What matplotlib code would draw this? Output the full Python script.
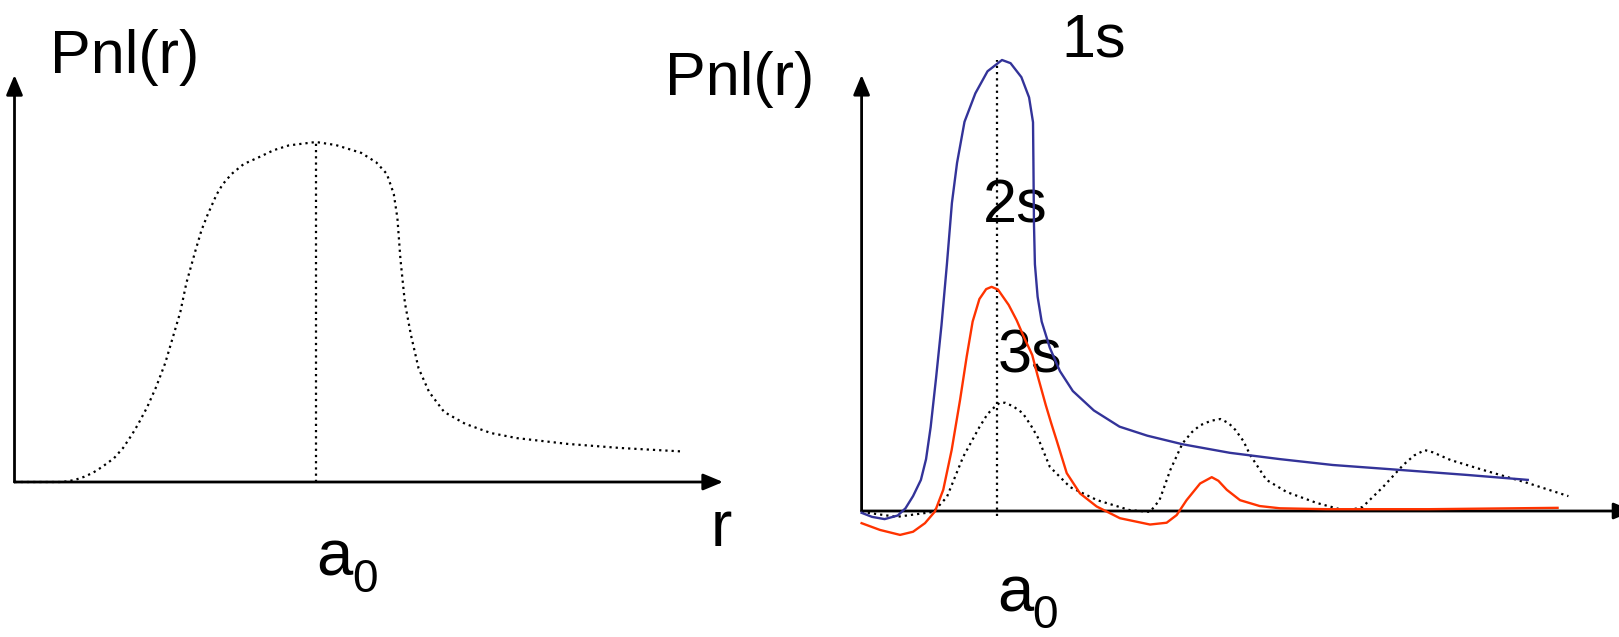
import numpy as np
import matplotlib
matplotlib.use('Agg')
import matplotlib.pyplot as plt

plt.rcParams['font.family'] = ['Liberation Sans', 'DejaVu Sans']

# left panel: single hump, r in units of a0, P normalised to the peak
r_left = [0.0, 0.16, 0.20, 0.23, 0.26, 0.29, 0.33, 0.36, 0.39, 0.41, 0.44, 0.47, 0.50, 0.52, 0.55,
          0.57, 0.60, 0.62, 0.64, 0.67, 0.69, 0.72, 0.76, 0.81, 0.86, 0.91, 1.0, 1.066, 1.15, 1.20,
          1.235, 1.258, 1.27, 1.28, 1.295, 1.315, 1.34, 1.375, 1.425, 1.495, 1.58, 1.667, 1.835,
          2.01, 2.21]
p_left = [0.0, 0.0, 0.006, 0.015, 0.027, 0.044, 0.07, 0.10, 0.14, 0.17, 0.22, 0.28, 0.35, 0.41, 0.50,
          0.585, 0.68, 0.74, 0.785, 0.845, 0.875, 0.906, 0.935, 0.955, 0.976, 0.99, 1.0, 0.991, 0.968,
          0.94, 0.906, 0.847, 0.776, 0.656, 0.526, 0.432, 0.335, 0.265, 0.206, 0.171, 0.144, 0.129,
          0.112, 0.10, 0.09]

# right panel: 1s, 2s, 3s
r_1s = [0.0, 0.077, 0.17, 0.267, 0.324, 0.38, 0.438, 0.476, 0.51, 0.55, 0.59, 0.63, 0.667, 0.705,
        0.76, 0.84, 0.93, 1.037, 1.10, 1.18, 1.237, 1.266, 1.269, 1.273, 1.28, 1.30, 1.33, 1.39,
        1.465, 1.56, 1.715, 1.905, 2.11, 2.37, 2.72, 3.09, 3.48, 3.98, 4.47, 4.92]
p_1s = [-0.004, -0.013, -0.018, -0.01, 0.006, 0.033, 0.069, 0.115, 0.186, 0.295, 0.412, 0.547, 0.683,
        0.772, 0.863, 0.926, 0.975, 1.0, 0.993, 0.962, 0.917, 0.862, 0.772, 0.637, 0.547, 0.475,
        0.42, 0.362, 0.31, 0.266, 0.223, 0.187, 0.167, 0.148, 0.129, 0.115, 0.102, 0.091, 0.08, 0.069]

r_2s = [0.0, 0.136, 0.284, 0.38, 0.468, 0.542, 0.603, 0.665, 0.727, 0.776, 0.82, 0.87, 0.92, 0.96,
        1.007, 1.086, 1.145, 1.20, 1.26, 1.30, 1.36, 1.40, 1.44, 1.515, 1.613, 1.736, 1.908, 2.13,
        2.253, 2.327, 2.40, 2.50, 2.586, 2.635, 2.697, 2.795, 2.94, 3.09, 3.43, 4.19, 5.14]
p_2s = [-0.027, -0.042, -0.053, -0.046, -0.027, -0.001, 0.047, 0.135, 0.246, 0.342, 0.42, 0.47, 0.492,
        0.497, 0.491, 0.457, 0.423, 0.385, 0.346, 0.30, 0.235, 0.195, 0.157, 0.084, 0.039, 0.01,
        -0.016, -0.03, -0.026, -0.009, 0.024, 0.061, 0.075, 0.067, 0.047, 0.024, 0.011, 0.006,
        0.004, 0.004, 0.007]

r_3s = [0.0, 0.26, 0.53, 0.63, 0.75, 0.87, 0.93, 0.98, 1.02, 1.06, 1.12, 1.19, 1.25, 1.30, 1.39,
        1.54, 1.74, 1.98, 2.13, 2.20, 2.28, 2.37, 2.44, 2.50, 2.58, 2.65, 2.71, 2.76, 2.82, 2.87,
        2.99, 3.14, 3.36, 3.58, 3.70, 3.85, 4.00, 4.08, 4.16, 4.22, 4.35, 4.59, 4.92, 5.22]
p_3s = [-0.002, -0.013, -0.002, 0.031, 0.12, 0.186, 0.215, 0.23, 0.24, 0.24, 0.232, 0.217, 0.19,
        0.164, 0.098, 0.053, 0.024, 0.002, -0.002, 0.024, 0.091, 0.15, 0.175, 0.19, 0.20, 0.204,
        0.195, 0.18, 0.155, 0.124, 0.069, 0.042, 0.018, 0.0, 0.009, 0.053, 0.102, 0.123, 0.135,
        0.13, 0.113, 0.091, 0.062, 0.033]

ylabel = 'Pnl(r)'
orbitals = ['1s', '2s', '3s']

W, H = 1619, 637
fig = plt.figure(figsize=(W / 100, H / 100), dpi=100)


def make_panel(x0, x1, ox, oy, sx, sy):
    # axes spanning a strip of the figure, origin at pixel (ox, oy)
    ax = fig.add_axes([x0 / W, 0, (x1 - x0) / W, 1])
    ax.set_xlim((x0 - ox) / sx, (x1 - ox) / sx)
    ax.set_ylim((oy - H) / sy, oy / sy)
    ax.axis('off')
    return ax


def arrow(ax, start, tip):
    ax.annotate('', xy=tip, xytext=start, annotation_clip=False,
                arrowprops=dict(arrowstyle='-|>,head_length=0.6,head_width=0.25',
                                lw=2, color='k', shrinkA=0, shrinkB=0, mutation_scale=20))


dots = dict(color='k', lw=1.6, linestyle=(0, (1, 1.8)))

# ---- left
axl = make_panel(0, 810, 14.5, 482, 301.5, 340)
arrow(axl, (0, 0), (0, 1.197))
arrow(axl, (0, 0), (2.35, 0))
axl.plot(r_left, p_left, **dots)
axl.plot([1.0, 1.0], [0, 1.0], **dots)
axl.text(0.118, 1.203, ylabel, fontsize=44, va='baseline')
axl.text(2.31, -0.188, 'r', fontsize=46, va='baseline')
axl.text(1.0, -0.274, 'a', fontsize=47, va='baseline')
axl.text(1.12, -0.324, '0', fontsize=33, va='baseline')

# ---- right
axr = make_panel(810, 1619, 861.6, 511, 135.4, 451)
arrow(axr, (0, 0), (0, 0.967))
arrow(axr, (0, 0), (5.70, 0))
axr.plot([1.0, 1.0], [-0.011, 1.0], **dots, zorder=3)
axr.plot(r_3s, p_3s, **dots, zorder=3)
axr.plot(r_1s, p_1s, color='#333399', lw=1.7, zorder=3)
axr.plot(r_2s, p_2s, color='#ff3300', lw=1.7, zorder=3)
axr.text(-1.45, 0.922, ylabel, fontsize=44, va='baseline')
axr.text(1.476, 1.007, orbitals[0], fontsize=44, va='baseline', zorder=1)
axr.text(0.897, 0.639, orbitals[1], fontsize=44, va='baseline', zorder=1)
axr.text(1.004, 0.306, orbitals[2], fontsize=44, va='baseline', zorder=1)
axr.text(1.0, -0.222, 'a', fontsize=47, va='baseline')
axr.text(1.26, -0.259, '0', fontsize=33, va='baseline')

plt.savefig('out.png', dpi=100)
